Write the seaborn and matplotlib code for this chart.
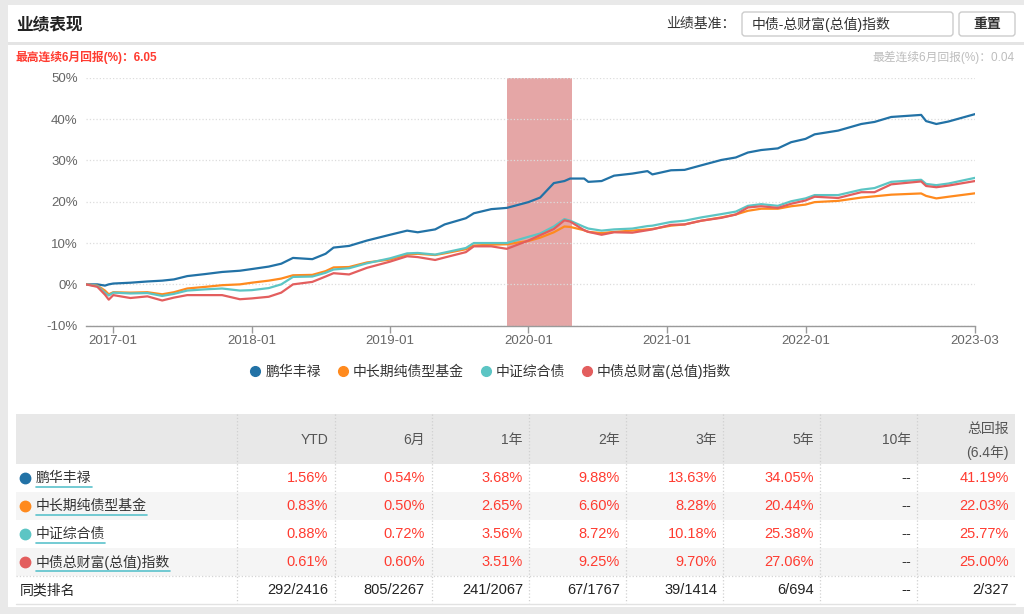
import pandas as pd
import matplotlib.pyplot as plt
from matplotlib.lines import Line2D
from matplotlib.patches import Rectangle, FancyBboxPatch
import seaborn as sns

# ---- data ----
dates = ['2016-10-21', '2016-11-20', '2016-12-10', '2016-12-20', '2017-01-01', '2017-02-15',
         '2017-04-01', '2017-05-10', '2017-06-10', '2017-07-15', '2017-09-01', '2017-10-15',
         '2017-12-01', '2018-01-01', '2018-02-15', '2018-03-20', '2018-04-20', '2018-06-10',
         '2018-07-15', '2018-08-05', '2018-09-15', '2018-11-01', '2019-01-01', '2019-02-15',
         '2019-03-15', '2019-04-30', '2019-05-25', '2019-07-20', '2019-08-10', '2019-09-25',
         '2019-11-05', '2020-01-01', '2020-02-01', '2020-03-08', '2020-04-05', '2020-04-20',
         '2020-05-27', '2020-06-07', '2020-07-12', '2020-08-14', '2020-10-01', '2020-11-10',
         '2020-11-23', '2021-01-11', '2021-02-16', '2021-04-01', '2021-05-24', '2021-07-01',
         '2021-08-02', '2021-09-06', '2021-10-20', '2021-11-24', '2022-01-01', '2022-01-25',
         '2022-03-28', '2022-05-28', '2022-07-02', '2022-08-15', '2022-11-02', '2022-11-15',
         '2022-12-12', '2023-01-13', '2023-03-24']

penghua = [0.0, 0.0, -0.3, 0.0, 0.2, 0.4, 0.7, 0.9, 1.2, 2.0, 2.5, 3.0, 3.3,
           3.7, 4.3, 5.0, 6.4, 6.1, 7.4, 8.9, 9.3, 10.6,
           12.0, 13.0, 12.6, 13.3, 14.5, 16.0, 17.2, 18.2, 18.5,
           19.9, 21.0, 24.5, 25.0, 25.6, 25.6, 24.8, 25.0, 26.3, 26.8, 27.4, 26.6,
           27.6, 27.7, 28.8, 30.1, 30.7, 31.9, 32.5, 32.9, 34.4,
           35.2, 36.3, 37.2, 38.8, 39.3, 40.5, 41.0, 39.5, 38.8, 39.4, 41.19]
zhongchang = [0.0, -0.3, -1.5, -2.4, -1.9, -2.0, -1.9, -2.4, -1.9, -1.0, -0.6, -0.2, 0.0,
              0.4, 0.9, 1.4, 2.2, 2.3, 3.2, 4.1, 4.2, 5.3,
              6.0, 7.2, 7.4, 7.1, 7.5, 8.5, 9.4, 9.6, 9.7,
              10.5, 11.3, 12.6, 14.0, 13.9, 13.1, 12.7, 12.4, 12.7, 13.0, 13.3, 13.4,
              14.2, 14.5, 15.4, 16.2, 16.9, 17.8, 18.3, 18.3, 18.9,
              19.3, 19.9, 20.2, 21.0, 21.3, 21.7, 22.0, 21.4, 20.8, 21.2, 22.03]
zhongzheng = [0.0, -0.4, -2.0, -2.7, -2.0, -2.2, -2.1, -2.8, -2.3, -1.5, -1.2, -1.0, -1.5,
              -1.4, -0.9, 0.0, 1.8, 1.9, 2.8, 3.6, 3.9, 5.1,
              6.3, 7.5, 7.6, 7.2, 7.7, 8.8, 10.0, 10.0, 10.0,
              11.5, 12.3, 14.0, 15.8, 15.4, 13.9, 13.5, 13.0, 13.3, 13.5, 14.1, 14.2,
              15.1, 15.4, 16.2, 17.0, 17.6, 19.0, 19.4, 19.0, 20.1,
              20.8, 21.6, 21.6, 22.9, 23.3, 24.8, 25.3, 24.3, 24.0, 24.4, 25.77]
zhongzhai = [0.0, -0.6, -2.5, -3.7, -2.6, -3.3, -2.9, -3.9, -3.2, -2.6, -2.6, -2.6, -3.6,
             -3.4, -3.0, -2.0, 0.0, 0.6, 1.9, 2.7, 2.4, 4.0,
             5.5, 6.8, 6.6, 5.9, 6.5, 7.8, 9.2, 9.2, 8.6,
             10.6, 11.9, 13.4, 15.5, 15.2, 13.1, 12.7, 12.0, 12.6, 12.5, 13.1, 13.3,
             14.4, 14.5, 15.4, 16.1, 16.9, 18.6, 18.9, 18.5, 19.5,
             20.3, 21.2, 20.9, 22.3, 22.3, 24.2, 24.9, 23.8, 23.5, 23.9, 25.0]

series_names = ['鹏华丰禄', '中长期纯债型基金', '中证综合债', '中债总财富(总值)指数']
colors = ['#2272a6', '#ff8a1e', '#5cc5c4', '#e35e5e']

highlight_start = '2019-11-06'
highlight_end = '2020-04-26'
xtick_dates = ['2017-01-01', '2018-01-01', '2019-01-01', '2020-01-01', '2021-01-01', '2022-01-01', '2023-03-24']
xtick_labels = ['2017-01', '2018-01', '2019-01', '2020-01', '2021-01', '2022-01', '2023-03']

table_cols = ['YTD', '6月', '1年', '2年', '3年', '5年', '10年', '总回报\n(6.4年)']
row_penghua = ['1.56%', '0.54%', '3.68%', '9.88%', '13.63%', '34.05%', '--', '41.19%']
row_zhongchang = ['0.83%', '0.50%', '2.65%', '6.60%', '8.28%', '20.44%', '--', '22.03%']
row_zhongzheng = ['0.88%', '0.72%', '3.56%', '8.72%', '10.18%', '25.38%', '--', '25.77%']
row_zhongzhai = ['0.61%', '0.60%', '3.51%', '9.25%', '9.70%', '27.06%', '--', '25.00%']
rank_row = ['292/2416', '805/2267', '241/2067', '67/1767', '39/1414', '6/694', '--', '2/327']

# ---- long table for seaborn ----
frames = []
for name, vals in zip(series_names, [penghua, zhongchang, zhongzheng, zhongzhai]):
    frames.append(pd.DataFrame({'date': pd.to_datetime(dates), 'value': vals, 'series': name}))
df = pd.concat(frames, ignore_index=True)

sns.set_theme(style='white')
plt.rcParams['font.family'] = ['Liberation Sans', 'Noto Sans CJK SC', 'DejaVu Sans']
plt.rcParams['axes.unicode_minus'] = False

fig = plt.figure(figsize=(10.24, 6.14), dpi=100)
fig.patch.set_facecolor('#e9e9e9')

# background layer in pixel coordinates
bg = fig.add_axes([0, 0, 1, 1])
bg.set_xlim(0, 1024)
bg.set_ylim(614, 0)
bg.axis('off')
bg.add_patch(Rectangle((8, 5), 1016, 602, facecolor='white', edgecolor='none'))
bg.add_patch(Rectangle((8, 42), 1016, 2.5, facecolor='#e4e4e4', edgecolor='none'))

bg.text(16, 24, '业绩表现', fontsize=12, fontweight='bold', color='#222', va='center')
bg.text(736, 24, '业绩基准：', fontsize=10, color='#333', va='center', ha='right')
bg.add_patch(FancyBboxPatch((742, 12), 211, 24, boxstyle='round,pad=0,rounding_size=3',
                            facecolor='white', edgecolor='#cccccc', linewidth=1))
bg.text(752, 24, '中债-总财富(总值)指数', fontsize=10, color='#333', va='center')
bg.add_patch(FancyBboxPatch((959, 12), 56, 24, boxstyle='round,pad=0,rounding_size=3',
                            facecolor='white', edgecolor='#cccccc', linewidth=1))
bg.text(987, 24, '重置', fontsize=10, color='#333', va='center', ha='center', fontweight='bold')

bg.text(16, 57, '最高连续6月回报(%)：6.05', fontsize=8.5, color='#ff3b30', va='center', fontweight='bold')
bg.text(1015, 57, '最差连续6月回报(%)：0.04', fontsize=8.5, color='#bdbdbd', va='center', ha='right')

# ---- line chart ----
ax = fig.add_axes([86 / 1024, 1 - 325.7 / 614, (975 - 86) / 1024, (325.7 - 77.7) / 614])
ax.patch.set_alpha(0)
ax.axvspan(pd.Timestamp(highlight_start), pd.Timestamp(highlight_end), color='#e5a6a6', zorder=0, lw=0)
sns.lineplot(data=df, x='date', y='value', hue='series', hue_order=series_names,
             palette=colors, linewidth=1.6, legend=False, ax=ax, zorder=3)
ax.set_xlim(pd.Timestamp(dates[0]), pd.Timestamp(dates[-1]))
ax.set_ylim(-10, 50)
ax.set_yticks(range(-10, 51, 10))
ax.set_yticklabels([f'{v}%' for v in range(-10, 51, 10)])
ax.set_xticks(pd.to_datetime(xtick_dates))
ax.set_xticklabels(xtick_labels)
ax.grid(axis='y', linestyle=':', color='#dcdcdc', linewidth=0.9)
ax.grid(axis='x', visible=False)
for s in ['left', 'top', 'right']:
    ax.spines[s].set_visible(False)
ax.spines['bottom'].set_color('#9a9a9a')
ax.spines['bottom'].set_linewidth(1)
ax.tick_params(axis='x', direction='out', length=5, width=1, color='#9a9a9a',
               labelcolor='#666', labelsize=9.5, pad=2, bottom=True)
ax.tick_params(axis='y', length=0, labelcolor='#666', labelsize=9.5, pad=6)
ax.set_xlabel('')
ax.set_ylabel('')

handles = [Line2D([], [], marker='o', linestyle='none', markersize=7,
                  markerfacecolor=c, markeredgecolor=c) for c in colors]
fig.legend(handles, series_names, loc='center', bbox_to_anchor=(489 / 1024, 1 - 371 / 614),
           ncol=4, frameon=False, fontsize=10, handletextpad=0.1, columnspacing=1.0,
           handlelength=1.2, labelcolor='#333')

# ---- table ----
tx0, tx1 = 16, 1015
bg.add_patch(Rectangle((tx0, 414), tx1 - tx0, 50, facecolor='#e8e8e8', edgecolor='none'))
row_tops = [464, 492, 520, 548, 576]
row_fills = ['white', '#f5f5f5', 'white', '#f5f5f5', 'white']
for top, fc in zip(row_tops, row_fills):
    bg.add_patch(Rectangle((tx0, top), tx1 - tx0, 28, facecolor=fc, edgecolor='none'))
bg.plot([tx0, tx1], [576, 576], color='#d4d4d4', linestyle=':', linewidth=0.9)
bg.plot([tx0, tx1], [603.5, 603.5], color='#e2e2e2', linewidth=1)

col_lines = [237, 335, 432, 529, 626, 723, 820, 917]
for x in col_lines:
    bg.plot([x, x], [414, 603], color='#d0d0d0', linestyle=':', linewidth=0.9)

col_right = [328, 425, 523, 620, 717, 814, 911, 1009]
for x, label in zip(col_right, table_cols):
    if '\n' in label:
        top, bot = label.split('\n')
        bg.text(x, 429, top, ha='right', va='center', fontsize=10, color='#555')
        bg.text(x, 453, bot, ha='right', va='center', fontsize=10, color='#555')
    else:
        bg.text(x, 440, label, ha='right', va='center', fontsize=10, color='#555')

rows = [row_penghua, row_zhongchang, row_zhongzheng, row_zhongzhai]
label_texts = []
for i, (name, c, vals) in enumerate(zip(series_names, colors, rows)):
    yc = row_tops[i] + 14
    bg.plot([25], [yc], marker='o', markersize=7.5, color=c, linestyle='none')
    t = bg.text(36, yc, name, ha='left', va='center', fontsize=10, color='#333')
    label_texts.append((t, yc))
    for x, v in zip(col_right, vals):
        bg.text(x, yc, v, ha='right', va='center', fontsize=10.5,
                color='#333' if v == '--' else '#ff3b30')

yc = row_tops[4] + 14
bg.text(20, yc, '同类排名', ha='left', va='center', fontsize=10, color='#222')
for x, v in zip(col_right, rank_row):
    bg.text(x, yc, v, ha='right', va='center', fontsize=10.5, color='#222')

# teal underline under the row names
fig.canvas.draw()
renderer = fig.canvas.get_renderer()
for t, yc in label_texts:
    bb = t.get_window_extent(renderer)
    bg.plot([bb.x0, bb.x1], [yc + 9, yc + 9], color='#5bc2cc', linewidth=1.2)

fig.savefig('out.png', dpi=100, facecolor=fig.get_facecolor())
